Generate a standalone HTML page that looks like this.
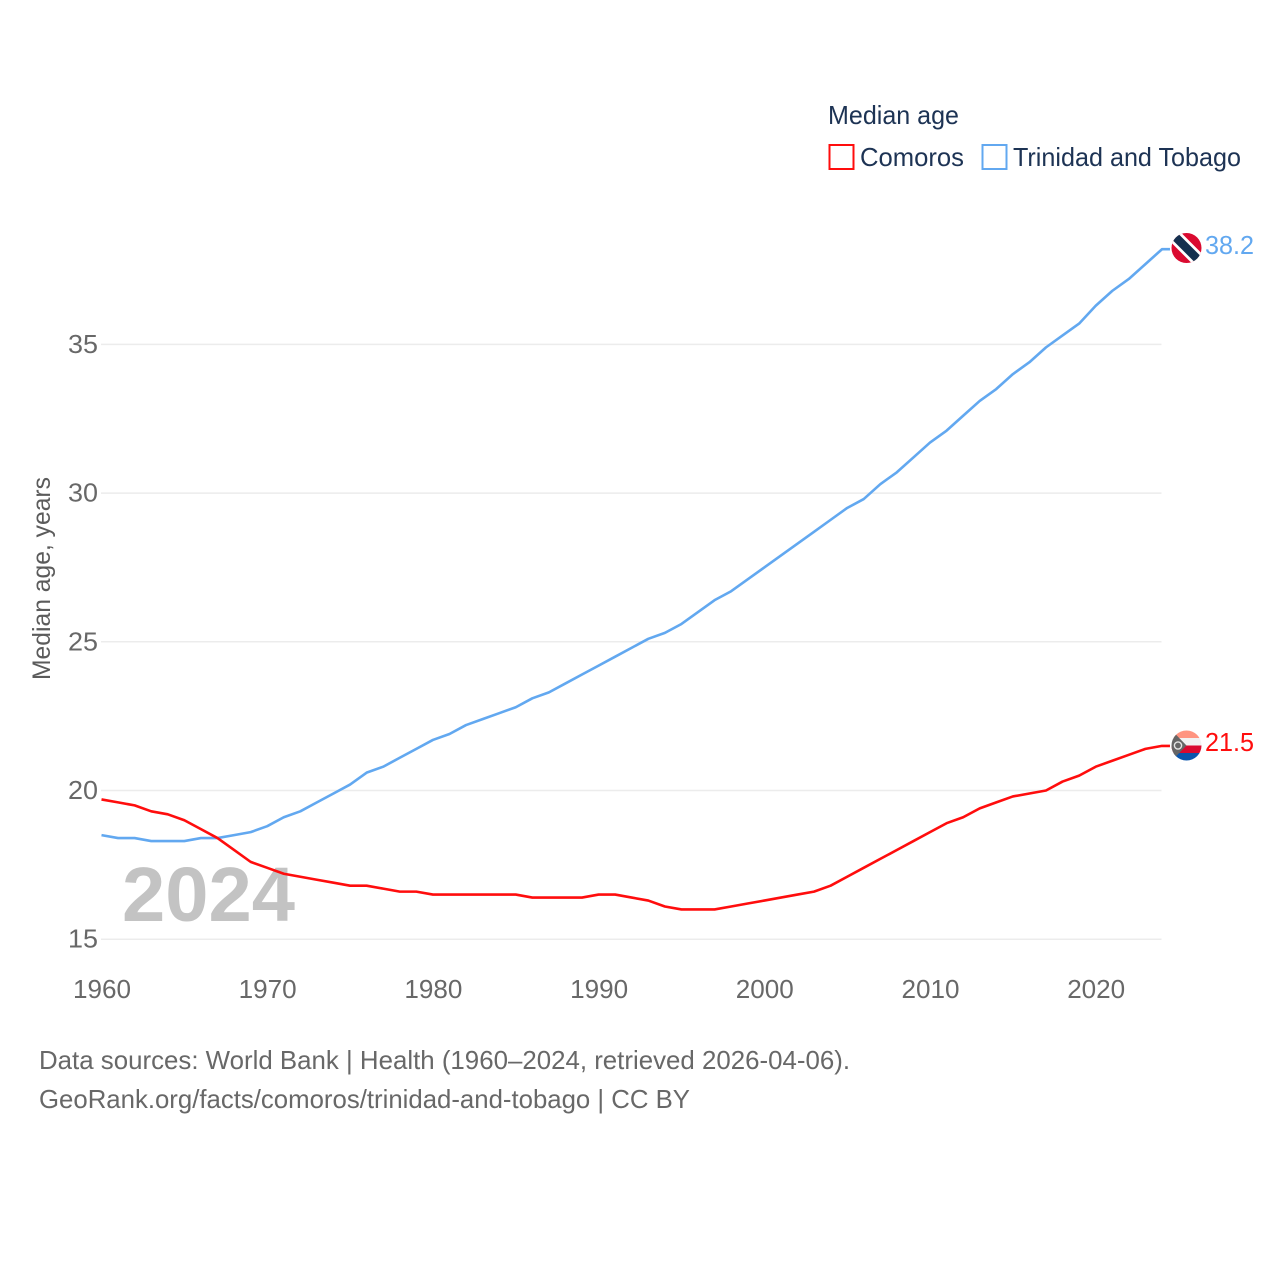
<!DOCTYPE html>
<html lang="en">
<head>
<meta charset="utf-8">
<title>Median age: Comoros and Trinidad and Tobago</title>
<style>
html,body{margin:0;padding:0;background:#fff}
svg{display:block}
text{font-family:"Liberation Sans",sans-serif}
</style>
</head>
<body>
<svg id="chart" xmlns="http://www.w3.org/2000/svg" width="1280" height="1280" viewBox="0 0 1280 1280">
  <rect width="1280" height="1280" fill="#ffffff"/>
  <g id="grid"></g>
  <g id="ylabels"></g>
  <g id="xlabels"></g>
  <text transform="translate(50,680) rotate(-90)" font-size="25" fill="#5b5b5b" textLength="203" lengthAdjust="spacingAndGlyphs">Median age, years</text>
  <text x="122" y="921" font-size="77" font-weight="bold" fill="#c3c3c3" textLength="173" lengthAdjust="spacingAndGlyphs">2024</text>
  <g id="series"></g>

  <g>
    <text x="828" y="124" font-size="26" fill="#1d3354" textLength="131" lengthAdjust="spacingAndGlyphs">Median age</text>
    <g>
      <rect x="829.5" y="145" width="24" height="24" fill="#fff" stroke="#ff0d0d" stroke-width="2"/>
      <text x="860" y="166" font-size="26" fill="#1d3354" textLength="104" lengthAdjust="spacingAndGlyphs">Comoros</text>
    </g>
    <g>
      <rect x="982.5" y="145" width="24" height="24" fill="#fff" stroke="#62a8f0" stroke-width="2"/>
      <text x="1013" y="166" font-size="26" fill="#1d3354" textLength="228" lengthAdjust="spacingAndGlyphs">Trinidad and Tobago</text>
    </g>
  </g>

  <defs>
    <clipPath id="clipTT"><circle cx="1186.5" cy="248" r="15"/></clipPath>
    <clipPath id="clipKM"><circle cx="1186.5" cy="745.5" r="15"/></clipPath>
  </defs>
  <g clip-path="url(#clipTT)">
    <rect x="1170" y="232" width="33" height="32" fill="#da0a30"/>
    <line x1="1170.5" y1="232" x2="1202.5" y2="264" stroke="#ffffff" stroke-width="14"/>
    <line x1="1170.5" y1="232" x2="1202.5" y2="264" stroke="#15304f" stroke-width="8.5"/>
  </g>
  <g clip-path="url(#clipKM)">
    <rect x="1170" y="730" width="33" height="8" fill="#ff9480"/>
    <rect x="1170" y="738" width="33" height="8" fill="#f2f2f2"/>
    <rect x="1170" y="745.5" width="33" height="8" fill="#da0a30"/>
    <rect x="1170" y="753" width="33" height="9" fill="#0a55ad"/>
    <polygon points="1170,730 1171.5,730 1186.5,745.5 1171.5,761 1170,761" fill="#666666"/>
    <circle cx="1178" cy="745.5" r="3.6" fill="none" stroke="#e5e5e5" stroke-width="1.4"/>
  </g>
  <text id="endTT" x="1205" y="254" font-size="26" fill="#62a8f0" textLength="49" lengthAdjust="spacingAndGlyphs">38.2</text>
  <text id="endKM" x="1205" y="751" font-size="26" fill="#ff0d0d" textLength="49" lengthAdjust="spacingAndGlyphs">21.5</text>

  <g>
    <text x="39" y="1069" font-size="26" fill="#686868" textLength="811" lengthAdjust="spacingAndGlyphs">Data sources: World Bank | Health (1960–2024, retrieved 2026-04-06).</text>
    <text x="39" y="1108" font-size="26" fill="#686868" textLength="651" lengthAdjust="spacingAndGlyphs">GeoRank.org/facts/comoros/trinidad-and-tobago | CC BY</text>
  </g>
</svg>
<script>
const startYear = 1960;
const comoros = [19.7,19.6,19.5,19.3,19.2,19.0,18.7,18.4,18.0,17.6,17.4,17.2,17.1,17.0,16.9,16.8,16.8,16.7,16.6,16.6,16.5,16.5,16.5,16.5,16.5,16.5,16.4,16.4,16.4,16.4,16.5,16.5,16.4,16.3,16.1,16.0,16.0,16.0,16.1,16.2,16.3,16.4,16.5,16.6,16.8,17.1,17.4,17.7,18.0,18.3,18.6,18.9,19.1,19.4,19.6,19.8,19.9,20.0,20.3,20.5,20.8,21.0,21.2,21.4,21.5];
const trinidad = [18.5,18.4,18.4,18.3,18.3,18.3,18.4,18.4,18.5,18.6,18.8,19.1,19.3,19.6,19.9,20.2,20.6,20.8,21.1,21.4,21.7,21.9,22.2,22.4,22.6,22.8,23.1,23.3,23.6,23.9,24.2,24.5,24.8,25.1,25.3,25.6,26.0,26.4,26.7,27.1,27.5,27.9,28.3,28.7,29.1,29.5,29.8,30.3,30.7,31.2,31.7,32.1,32.6,33.1,33.5,34.0,34.4,34.9,35.3,35.7,36.3,36.8,37.2,37.7,38.2];
const yTicks = [15,20,25,30,35];
const xTicks = [1960,1970,1980,1990,2000,2010,2020];

const NS = 'http://www.w3.org/2000/svg';
function xScale(year){ return 101.5 + (year - 1960) * 16.57; }
function yScale(v){ return 939.2 - (v - 15) * 29.74; }

const grid = document.getElementById('grid');
const ylabels = document.getElementById('ylabels');
const xlabels = document.getElementById('xlabels');
const seriesGroup = document.getElementById('series');

yTicks.forEach(function(t){
  const line = document.createElementNS(NS,'line');
  
  
  line.setAttribute('x1', 101);
  line.setAttribute('x2', 1161.5);
  line.setAttribute('y1', yScale(t));
  line.setAttribute('y2', yScale(t));
  line.setAttribute('stroke', '#ececec');
  line.setAttribute('stroke-width', '1.5');
  grid.appendChild(line);
  const label = document.createElementNS(NS,'text');
  
  
  label.setAttribute('x', 98);
  label.setAttribute('y', yScale(t) + 8.5);
  label.setAttribute('text-anchor', 'end');
  label.setAttribute('font-size', '26');
  label.setAttribute('fill', '#686868');
  label.setAttribute('textLength', '30');
  label.setAttribute('lengthAdjust', 'spacingAndGlyphs');
  label.textContent = t;
  ylabels.appendChild(label);
});

xTicks.forEach(function(t){
  const label = document.createElementNS(NS,'text');
  
  
  label.setAttribute('x', xScale(t) + 0.5);
  label.setAttribute('y', 998);
  label.setAttribute('text-anchor', 'middle');
  label.setAttribute('font-size', '26');
  label.setAttribute('fill', '#686868');
  label.setAttribute('textLength', '58');
  label.setAttribute('lengthAdjust', 'spacingAndGlyphs');
  label.textContent = t;
  xlabels.appendChild(label);
});

function drawSeries(values, color, name){
  const pts = values.map(function(v,i){
    return xScale(startYear + i).toFixed(2) + ',' + yScale(v).toFixed(2);
  });
  const last = values.length - 1;
  pts.push((xScale(startYear + last) + 8).toFixed(2) + ',' + yScale(values[last]).toFixed(2));
  const line = document.createElementNS(NS,'polyline');
  
  
  line.setAttribute('points', pts.join(' '));
  line.setAttribute('fill', 'none');
  line.setAttribute('stroke', color);
  line.setAttribute('stroke-width', '2.6');
  line.setAttribute('stroke-linejoin', 'round');
  seriesGroup.appendChild(line);
}
drawSeries(trinidad, '#62a8f0', 'line-trinidad-and-tobago');
drawSeries(comoros, '#ff0d0d', 'line-comoros');

document.getElementById('endTT').textContent = trinidad[trinidad.length-1].toFixed(1);
document.getElementById('endKM').textContent = comoros[comoros.length-1].toFixed(1);
</script>
</body>
</html>
